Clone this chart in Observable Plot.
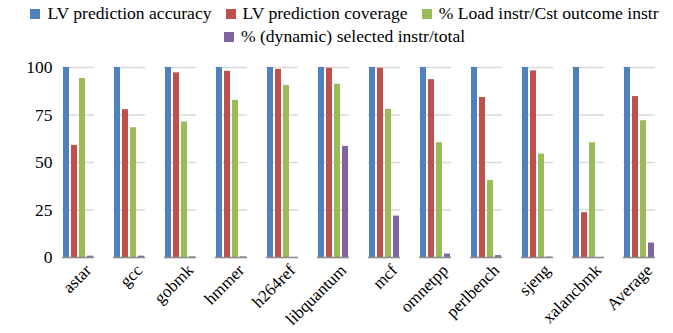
<!DOCTYPE html>
<html>
<head>
<meta charset="utf-8">
<script src="https://cdn.jsdelivr.net/npm/d3@7"></script>
<script src="https://cdn.jsdelivr.net/npm/@observablehq/plot@0.6"></script>
<style>
  body { margin: 0; background: #fff; font-family: "Liberation Serif", "DejaVu Serif", serif; }
  #legend { width: 673px; padding-left: 16px; height: 50px; box-sizing: border-box; padding-top: 2px;
    display: flex; flex-wrap: wrap; justify-content: center; align-content: flex-start;
    font-family: "Liberation Serif", serif; font-size: 17.6px; color: #000; line-height: 23px; }
  .item { display: flex; align-items: center; margin: 0 7px; }
  .sw { width: 10px; height: 10px; margin-right: 7px; }
</style>
</head>
<body>
<div id="legend"></div>
<div id="chart"></div>
<script>
const categories = ["astar","gcc","gobmk","hmmer","h264ref","libquantum","mcf","omnetpp","perlbench","sjeng","xalancbmk","Average"];
const series = ["LV prediction accuracy","LV prediction coverage","% Load instr/Cst outcome instr","% (dynamic) selected instr/total"];
const colors = ["#4F81BD","#C0504D","#9BBB59","#8064A2"];
const accuracy = [100,100,100,100,100,100,100,100,100,100,100,100];
const coverage = [59,77.8,97.2,98,99,99.6,99.6,93.6,84.2,98.2,23.6,84.7];
const loadCst  = [94.2,68.3,71.3,82.7,90.6,91.2,78,60.4,40.5,54.4,60.4,72];
const selected = [0.7,0.7,0.3,0.3,0,58.5,21.8,1.8,1,0.2,0,7.6];
const yTicks = [0,25,50,75,100];

const allValues = [accuracy, coverage, loadCst, selected];
const data = [];
categories.forEach((c, i) => series.forEach((s, j) => data.push({category: c, series: s, value: allValues[j][i]})));

const legend = document.getElementById("legend");
series.forEach((s, j) => {
  const it = document.createElement("div"); it.className = "item";
  const sw = document.createElement("div"); sw.className = "sw"; sw.style.background = colors[j];
  const t = document.createElement("span"); t.textContent = s;
  it.appendChild(sw); it.appendChild(t); legend.appendChild(it);
});

const chart = Plot.plot({
  width: 673,
  height: 283,
  marginLeft: 40,
  marginRight: 0,
  marginTop: 17,
  marginBottom: 76,
  style: { fontFamily: "'Liberation Serif', serif", fontSize: "17px", color: "#000", background: "#fff" },
  fx: { domain: categories, range: [48, 668], paddingInner: 0.38, paddingOuter: 0.19, label: null },
  x: { domain: series, paddingInner: 0.25, paddingOuter: 0, axis: null },
  y: { domain: [0, 100], label: null },
  color: { domain: series, range: colors },
  marks: [
    Plot.ruleY(yTicks, { stroke: "#d9d9d9", strokeWidth: 1.5 }),
    Plot.barY(data, { fx: "category", x: "series", y: "value", fill: "series" }),
    Plot.ruleY([0], { stroke: "#8c8c8c", strokeWidth: 1.5 }),
    Plot.axisY({ ticks: yTicks, tickSize: 0, tickPadding: 10, label: null, fontSize: 17.5 }),
    Plot.axisFx({ anchor: "bottom", tickRotate: -45, tickSize: 0, tickPadding: 10, dx: 10, label: null, fontSize: 17 })
  ]
});
document.getElementById("chart").appendChild(chart);
</script>
</body>
</html>
